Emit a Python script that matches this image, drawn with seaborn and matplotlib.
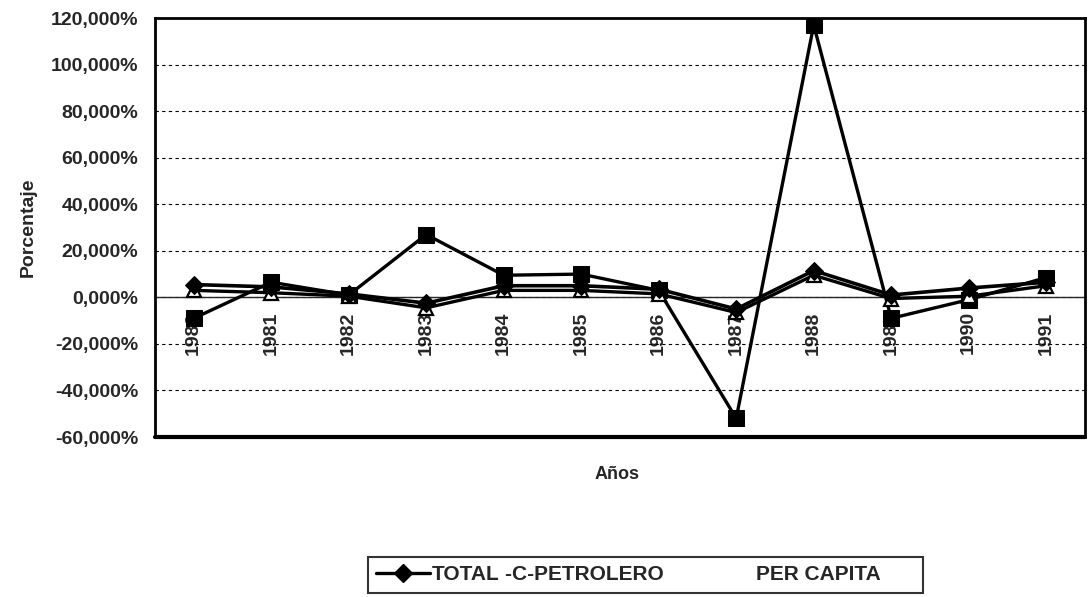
import numpy as np
import pandas as pd
import matplotlib
matplotlib.use("Agg")
import matplotlib.pyplot as plt
from matplotlib.lines import Line2D
from matplotlib.ticker import FuncFormatter, MultipleLocator
import seaborn as sns

sns.set_style("white")
plt.rcParams["font.family"] = ["Liberation Sans", "DejaVu Sans"]

# Annual growth rate (%)
years = [1980, 1981, 1982, 1983, 1984, 1985, 1986, 1987, 1988, 1989, 1990, 1991]
total = [5.5, 4.5, 1.5, -2.5, 5.0, 5.0, 3.5, -5.0, 11.5, 1.0, 4.0, 6.5]
petrolero = [-9.0, 6.5, 1.0, 27.0, 9.5, 10.0, 3.0, -52.0, 117.0, -9.0, -1.0, 8.5]
per_capita = [3.0, 2.0, 0.5, -4.5, 3.0, 3.0, 1.5, -6.5, 9.5, -0.5, 0.5, 5.0]
legend_labels = ["TOTAL", "-C-PETROLERO", "PER CAPITA"]

df = pd.DataFrame({"pos": np.arange(len(years)), "year": years,
                   "TOTAL": total, "C-PETROLERO": petrolero, "PER CAPITA": per_capita})

fig = plt.figure(figsize=(10.89, 5.97), dpi=100)
ax = fig.add_axes([0.1423, 0.268, 0.8540, 0.7017])

sns.lineplot(data=df, x="pos", y="C-PETROLERO", color="black", lw=2.4,
             marker="s", markersize=11, markeredgecolor="black", ax=ax, zorder=3)
sns.lineplot(data=df, x="pos", y="PER CAPITA", color="black", lw=2.4,
             marker="^", markersize=10, markerfacecolor="white",
             markeredgecolor="black", markeredgewidth=1.6, ax=ax, zorder=4)
sns.lineplot(data=df, x="pos", y="TOTAL", color="black", lw=2.6,
             marker="D", markersize=9, markeredgecolor="black", ax=ax, zorder=5)

ax.set_xlim(-0.5, len(years) - 0.5)
ax.set_ylim(-60, 120)
ax.yaxis.set_major_locator(MultipleLocator(20))
ax.yaxis.set_major_formatter(FuncFormatter(lambda v, p: f"{v:.3f}%".replace(".", ",")))
ax.grid(axis="y", linestyle=(0, (3, 3)), color="black", lw=0.8)
ax.grid(axis="x", visible=False)

# x axis crosses at zero, labels sit just under it
ax.spines["bottom"].set_position(("data", 0))
ax.spines["bottom"].set_linewidth(1.0)
ax.spines["bottom"].set_zorder(2)
ax.set_xticks(df["pos"])
ax.set_xticklabels(df["year"], rotation=90, fontsize=14, fontweight="bold")
ax.set_xticks(np.arange(-0.5, len(years), 1), minor=True)
ax.tick_params(axis="x", which="major", length=0, pad=10)
ax.tick_params(axis="x", which="minor", length=4, direction="out", width=0.8)
ax.tick_params(axis="y", length=5, width=0.8, direction="out", labelsize=14, pad=7)
for lbl in ax.get_yticklabels():
    lbl.set_fontweight("bold")

for side in ["left", "top", "right"]:
    ax.spines[side].set_linewidth(2.0)
    ax.spines[side].set_color("black")
ax.axhline(-60, color="black", lw=3, clip_on=False, zorder=6)

ax.set_xlabel("")
ax.set_ylabel("Porcentaje", fontsize=14, fontweight="bold", labelpad=10)
fig.text(0.5666, 0.2044, "Años", ha="center", va="center", fontsize=13, fontweight="bold")

handles = [
    Line2D([], [], color="black", lw=2.4, marker="D", markersize=9),
    Line2D([], [], color="none"),
    Line2D([], [], color="none"),
]
leg = fig.legend(handles, legend_labels, loc="upper left", bbox_to_anchor=(0.338, 0.067),
                 ncol=3, frameon=True, fancybox=False, edgecolor="black",
                 prop={"weight": "bold", "size": 15}, handlelength=2.55,
                 handletextpad=0.1, columnspacing=-2.36, borderpad=0.4,
                 borderaxespad=0)
leg.get_frame().set_linewidth(1.5)
# spread the entries the way the original legend does
texts = leg.get_texts()
texts[1].set_text(legend_labels[1] + " " * 15)
texts[2].set_text(legend_labels[2] + " " * 6)

fig.savefig("out.png", dpi=100)
